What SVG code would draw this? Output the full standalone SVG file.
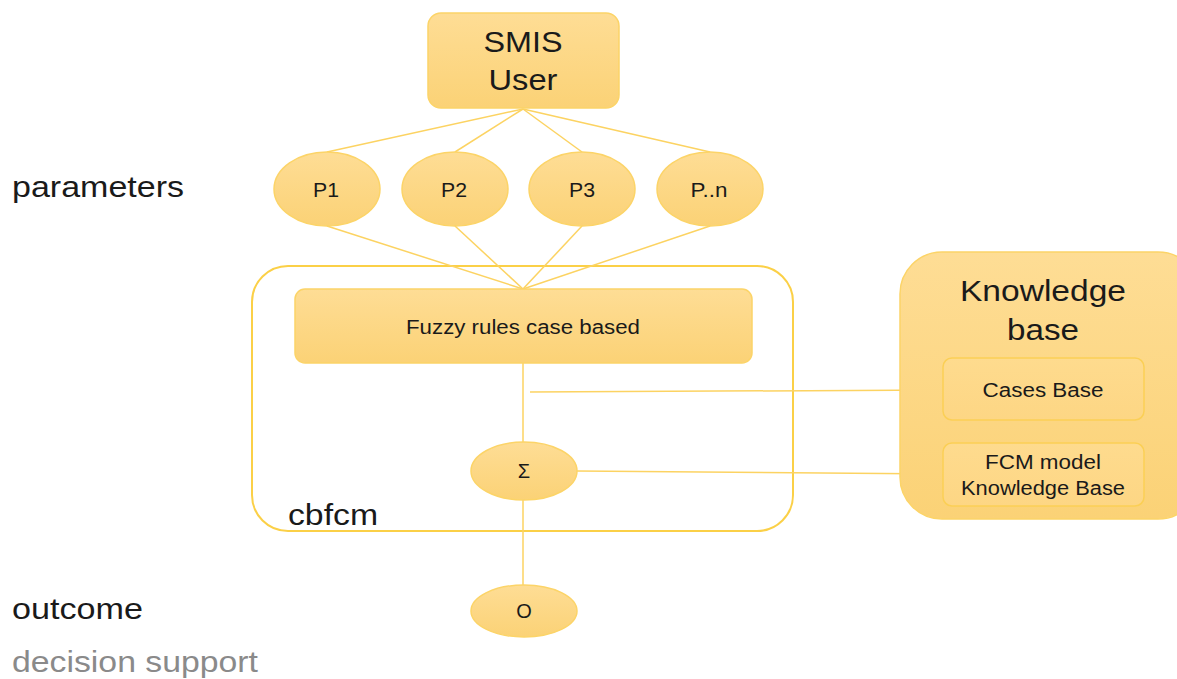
<svg xmlns="http://www.w3.org/2000/svg" width="1177" height="679" viewBox="0 0 1177 679">
  <defs>
    <linearGradient id="gold" x1="0" y1="0" x2="0" y2="1">
      <stop offset="0" stop-color="#fedd95"/>
      <stop offset="1" stop-color="#fbd276"/>
    </linearGradient>
    <linearGradient id="goldSoft" x1="0" y1="0" x2="0" y2="1">
      <stop offset="0" stop-color="#fedb8e"/>
      <stop offset="1" stop-color="#fdd684"/>
    </linearGradient>
  </defs>
  <style>
    .shape { fill: url(#gold); stroke: #fcd468; stroke-width: 1.5; }
    .inner { fill: url(#goldSoft); stroke: #fbcf55; stroke-width: 1.5; }
    .frame { fill: none; stroke: #fbd047; stroke-width: 2; }
    .link { stroke: #fcd362; stroke-width: 1.5; fill: none; }
    text { font-family: "Liberation Sans", Arial, sans-serif; fill: #1a1a1a; text-anchor: middle; }
    .big { font-size: 30px; }
    .small { font-size: 20px; }
    .side { font-size: 29px; text-anchor: start; }
    .muted { fill: #8a8a8a; }
  </style>

  <rect width="1177" height="679" fill="#ffffff"/>

  <!-- container frame -->
  <g id="cbfcm">
    <rect class="frame" x="252" y="266" width="541" height="265" rx="36"/>
    <text class="side" x="288" y="525" textLength="90" lengthAdjust="spacingAndGlyphs">cbfcm</text>
  </g>

  <!-- connectors -->
  <g id="connectors">
    <line class="link" x1="523" y1="109" x2="327" y2="152"/>
    <line class="link" x1="523" y1="109" x2="455" y2="152"/>
    <line class="link" x1="523" y1="109" x2="582" y2="152"/>
    <line class="link" x1="523" y1="109" x2="710" y2="152"/>
    <line class="link" x1="327" y1="226" x2="523" y2="289"/>
    <line class="link" x1="455" y1="226" x2="523" y2="289"/>
    <line class="link" x1="582" y1="226" x2="523" y2="289"/>
    <line class="link" x1="710" y1="226" x2="523" y2="289"/>
    <line class="link" x1="523" y1="363" x2="523" y2="443"/>
    <line class="link" x1="530" y1="392" x2="943" y2="390"/>
    <line class="link" x1="577" y1="471" x2="943" y2="474"/>
    <line class="link" x1="523" y1="500" x2="523" y2="585"/>
  </g>

  <g id="smis-user">
    <rect class="shape" x="428" y="13" width="191" height="95" rx="13"/>
    <text class="big" x="523" y="52" textLength="79" lengthAdjust="spacingAndGlyphs">SMIS</text>
    <text class="big" x="523" y="90" textLength="69" lengthAdjust="spacingAndGlyphs">User</text>
  </g>

  <text class="side" x="12" y="197" textLength="172" lengthAdjust="spacingAndGlyphs">parameters</text>

  <g id="p1">
    <ellipse class="shape" cx="327" cy="189" rx="53" ry="37"/>
    <text class="small" x="326" y="197" textLength="26" lengthAdjust="spacingAndGlyphs">P1</text>
  </g>
  <g id="p2">
    <ellipse class="shape" cx="455" cy="189" rx="53" ry="37"/>
    <text class="small" x="454" y="197" textLength="26" lengthAdjust="spacingAndGlyphs">P2</text>
  </g>
  <g id="p3">
    <ellipse class="shape" cx="582" cy="189" rx="53" ry="37"/>
    <text class="small" x="582" y="197" textLength="26" lengthAdjust="spacingAndGlyphs">P3</text>
  </g>
  <g id="pn">
    <ellipse class="shape" cx="710" cy="189" rx="53" ry="37"/>
    <text class="small" x="709" y="197" textLength="37" lengthAdjust="spacingAndGlyphs">P..n</text>
  </g>

  <g id="fuzzy-rules">
    <rect class="shape" x="295" y="289" width="457" height="74" rx="10"/>
    <text class="small" x="523" y="334" textLength="234" lengthAdjust="spacingAndGlyphs">Fuzzy rules case based</text>
  </g>

  <g id="sigma">
    <ellipse class="shape" cx="524" cy="471" rx="53" ry="29"/>
    <text class="small" x="524" y="478">Σ</text>
  </g>

  <g id="knowledge-base">
    <rect class="shape" x="900" y="252" width="300" height="267" rx="42"/>
    <text class="big" x="1043" y="301" textLength="166" lengthAdjust="spacingAndGlyphs">Knowledge</text>
    <text class="big" x="1043" y="340" textLength="72" lengthAdjust="spacingAndGlyphs">base</text>
  </g>

  <g id="cases-base">
    <rect class="inner" x="943" y="358" width="201" height="62" rx="9"/>
    <text class="small" x="1043" y="397" textLength="121" lengthAdjust="spacingAndGlyphs">Cases Base</text>
  </g>

  <g id="fcm-knowledge-base">
    <rect class="inner" x="943" y="443" width="201" height="63" rx="9"/>
    <text class="small" x="1043" y="469" textLength="116" lengthAdjust="spacingAndGlyphs">FCM model</text>
    <text class="small" x="1043" y="495" textLength="164" lengthAdjust="spacingAndGlyphs">Knowledge Base</text>
  </g>

  <g id="outcome">
    <ellipse class="shape" cx="524" cy="611" rx="53" ry="26"/>
    <text class="small" x="524" y="618">O</text>
  </g>

  <text class="side" x="12" y="619" textLength="131" lengthAdjust="spacingAndGlyphs">outcome</text>
  <text class="side muted" x="12" y="672" textLength="246" lengthAdjust="spacingAndGlyphs">decision support</text>
</svg>
